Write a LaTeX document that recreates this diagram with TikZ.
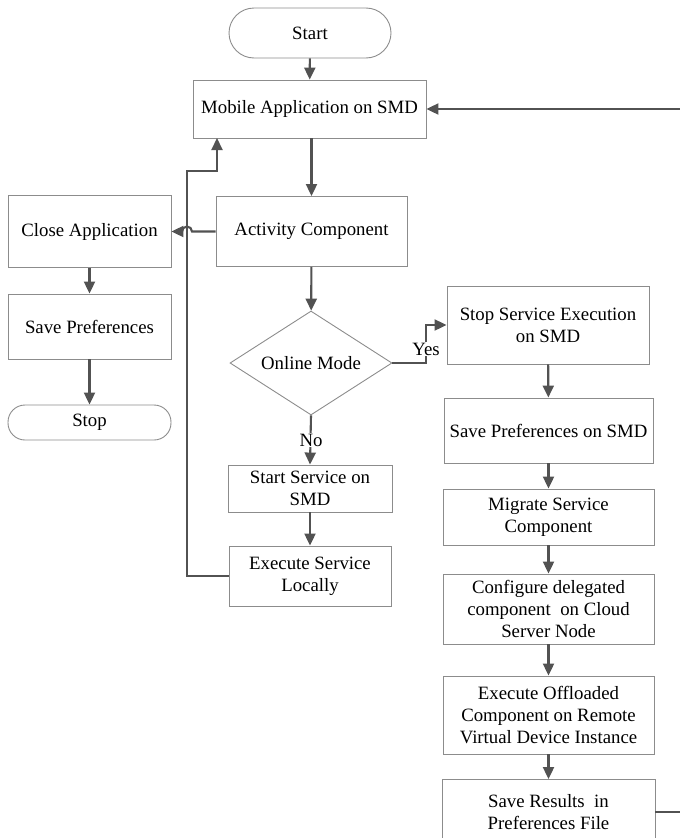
\documentclass[tikz,border=0pt]{standalone}
\usepackage{fontspec}
\setmainfont{Liberation Serif}
\usetikzlibrary{shapes.geometric,arrows.meta}
\colorlet{boxline}{black!45}
\colorlet{flowline}{black!68}
\tikzset{
  box/.style={draw=boxline, line width=0.9pt, align=center, inner sep=0pt},
  term/.style={box, rounded corners=17pt},
  decision/.style={draw=boxline, line width=0.9pt, diamond, aspect=1.56, inner sep=0pt,
    minimum width=162pt, minimum height=104pt},
  link/.style={draw=flowline, line width=2.1pt},
  flow/.style={link, -{Triangle[length=12pt,width=11pt]}},
  lbl/.style={fill=white, inner sep=1pt}
}

\begin{document}
\begin{tikzpicture}[x=1pt,y=-1pt, font=\fontsize{18.8}{22}\selectfont]
      \useasboundingbox (0,0) rectangle (680,838);
      \clip (0,0) rectangle (680,838);
      % main column
      \node [term, rounded corners=25pt, minimum width=162pt, minimum height=50pt] (start) at (310,33) {Start};
      \node [box, minimum width=233pt, minimum height=58pt] (mobile) at (309.5,109) {Mobile Application on SMD};
      \node [box, minimum width=191pt, minimum height=70pt] (activity) at (311.5,231.5) {Activity Component};
      \node [decision] (online) at (311,363) {Online Mode};
      \node [box, minimum width=164pt, minimum height=47pt] (startsvc) at (310,488.5) {Start Service on\\SMD};
      \node [box, minimum width=162pt, minimum height=60pt] (execlocal) at (310,576) {Execute Service\\Locally};
      % left column
      \node [box, minimum width=163pt, minimum height=72pt] (close) at (89.5,231.5) {Close Application};
      \node [box, minimum width=163pt, minimum height=65pt] (savepref) at (89.5,326.5) {Save Preferences};
      \node [term, minimum width=163pt, minimum height=35pt] (stop) at (89.5,422.5) {Stop};
      % right column
      \node [box, minimum width=202pt, minimum height=78pt] (stopsvc) at (548,325) {Stop Service Execution\\on SMD};
      \node [box, minimum width=209pt, minimum height=65pt] (saveprefsmd) at (548.5,430.5) {Save Preferences on SMD};
      \node [box, minimum width=211pt, minimum height=56pt] (migrate) at (548.5,517) {Migrate Service\\Component};
      \node [box, minimum width=211pt, minimum height=70pt] (configure) at (548.5,609) {Configure delegated\\component\ \ on Cloud\\Server Node};
      \node [box, minimum width=211pt, minimum height=78pt] (offload) at (548.5,715) {Execute Offloaded\\Component on Remote\\Virtual Device Instance};
      \node [box, minimum width=213pt, minimum height=65pt] (saveres) at (548.5,812) {Save Results\ \ in\\Preferences File};

      \coordinate (yesturn) at (426,363);
      \coordinate (hop) at (192,231.5);
      \coordinate (loopturn) at (187,171);
      \coordinate (loopin) at (217,138);
      \coordinate (back) at (700,812);

      \draw [flow] (start) -- (mobile);
      \draw [flow] (activity.north |- mobile.south) -- (activity.north);
      \draw [flow] (activity) -- (online);
      \draw [flow] (close) -- (savepref);
      \draw [flow] (savepref) -- (stop);
      \draw [flow] (startsvc) -- (execlocal);
      \draw [flow] (online.south) -- (startsvc.north);
      \node [lbl] (no) at (311,440) {No};
      \draw [flow] (online.east) -- (yesturn) |- (stopsvc.west);
      \node [lbl] (yes) at (426,349) {Yes};
      \draw [flow] (execlocal.west) -| (loopturn) -| (loopin);
      \draw [flow] (activity.west) -- (hop) arc [start angle=0, end angle=-180, radius=5] -- (close.east);
      \foreach \a/\b in {stopsvc/saveprefsmd, saveprefsmd/migrate, migrate/configure,
                         configure/offload, offload/saveres}
        \draw [flow] (\a) -- (\b);
      \draw [flow] (saveres.east) -- (back) |- (mobile.east);
    \end{tikzpicture}
\end{document}
